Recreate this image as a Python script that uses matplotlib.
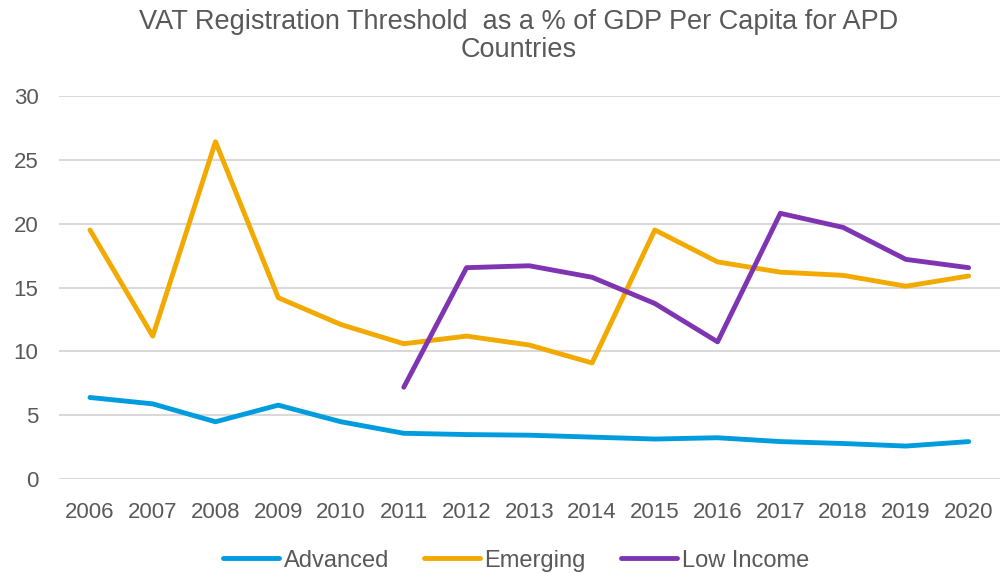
import matplotlib
matplotlib.use("Agg")
import matplotlib.pyplot as plt

plt.rcParams['font.family'] = ['Liberation Sans', 'DejaVu Sans']

years = [str(y) for y in range(2006, 2021)]

advanced = [6.4, 5.9, 4.5, 5.8, 4.5, 3.6, 3.5, 3.45, 3.3, 3.15, 3.25, 2.95, 2.8, 2.6, 2.95]
emerging = [19.5, 11.2, 26.4, 14.2, 12.1, 10.6, 11.2, 10.5, 9.1, 19.5, 17.0, 16.2, 15.95, 15.1, 15.9]
low_income_years = years[5:]
low_income = [7.2, 16.55, 16.7, 15.8, 13.75, 10.75, 20.8, 19.7, 17.2, 16.55]

grey = "#595959"

fig = plt.figure(figsize=(10, 5.73), dpi=100)
ax = fig.add_axes([0.0586, 0.1635, 0.9414, 0.6695])

ax.plot(years, advanced, color="#009CDE", lw=3.5, solid_capstyle="round", label="Advanced", zorder=3)
ax.plot(years, emerging, color="#F2A900", lw=3.5, solid_capstyle="round", label="Emerging", zorder=3)
ax.plot(low_income_years, low_income, color="#7F35B2", lw=3.5, solid_capstyle="round", label="Low Income", zorder=3)

ax.set_xlim(-0.5, 14.5)
ax.set_ylim(0, 30)
ax.set_yticks(range(0, 31, 5))
ax.grid(axis="y", color="#d9d9d9", lw=1.5)
ax.set_axisbelow(True)
for s in ax.spines.values():
    s.set_visible(False)
ax.tick_params(length=0, labelsize=16, colors=grey)
ax.tick_params(axis="x", pad=16)
ax.tick_params(axis="y", pad=14.5)

# titel
fig.text(0.519, 0.985, "VAT Registration Threshold  as a % of GDP Per Capita for APD\nCountries",
         ha="center", va="top", fontsize=19.5, color=grey, linespacing=1.12)

leg = ax.legend(loc="center", bbox_to_anchor=(0.486, -0.212), ncol=3, frameon=False,
                fontsize=17, handlelength=2.35, handletextpad=0.2, columnspacing=1.5)
for t in leg.get_texts():
    t.set_color(grey)

fig.savefig("out.png", dpi=100)
